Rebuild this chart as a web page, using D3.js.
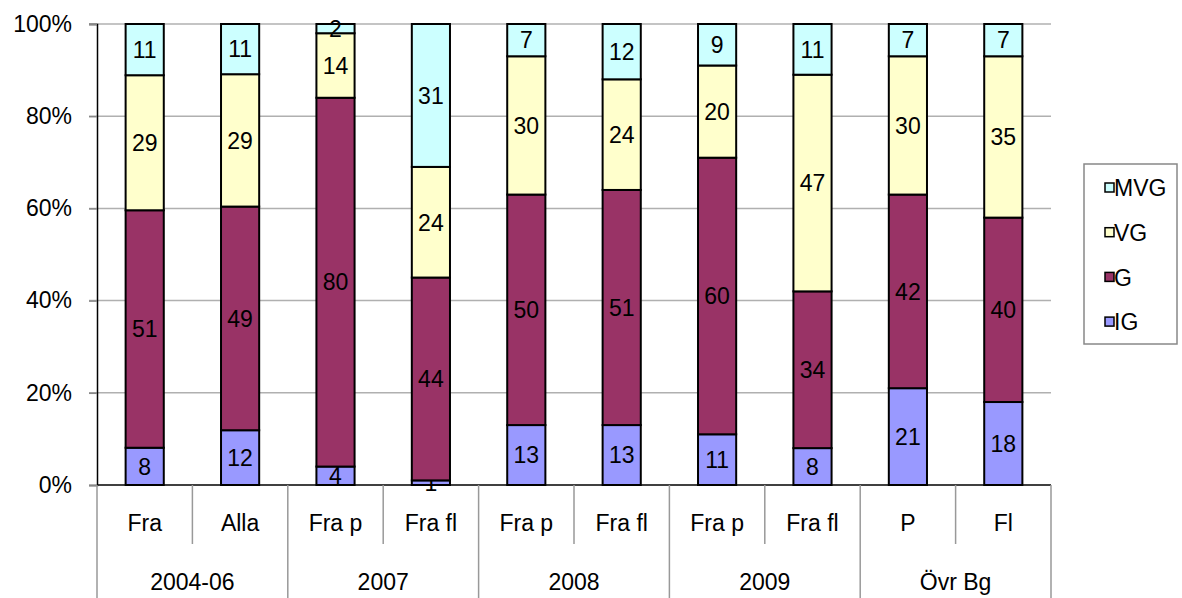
<!DOCTYPE html>
<html>
<head>
<meta charset="utf-8">
<script src="https://cdn.jsdelivr.net/npm/d3@7"></script>
<style>
  body { margin: 0; background: #fff; }
  text { font-family: "Liberation Sans", Arial, sans-serif; }
</style>
</head>
<body>
<svg class="chart"></svg>
<script>
let groups = ["2004-06", "2007", "2008", "2009", "Övr Bg"];
let categories = ["Fra", "Alla", "Fra p", "Fra fl", "Fra p", "Fra fl", "Fra p", "Fra fl", "P", "Fl"];
let groupOf = [0, 0, 1, 1, 2, 2, 3, 3, 4, 4];
let seriesNames = ["IG", "G", "VG", "MVG"];
let IG  = [8, 12, 4, 1, 13, 13, 11, 8, 21, 18];
let G   = [51, 49, 80, 44, 50, 51, 60, 34, 42, 40];
let VG  = [29, 29, 14, 24, 30, 24, 20, 47, 30, 35];
let MVG = [11, 11, 2, 31, 7, 12, 9, 11, 7, 7];
let yTicks = [0, 0.2, 0.4, 0.6, 0.8, 1];

let colors = { IG: "#9999FF", G: "#993366", VG: "#FFFFCC", MVG: "#CCFFFF" };

let svgWidth = 1182, svgHeight = 598;
let plotLeft = 97, plotRight = 1051, plotTop = 24, plotBottom = 485;
let fontSize = "23px";

let rows = categories.map(function (c, i) {
    return { i: i, IG: IG[i], G: G[i], VG: VG[i], MVG: MVG[i] };
});

let svg = d3.select('.chart')
    .attr("width", svgWidth)
    .attr("height", svgHeight);

let x = d3.scaleBand()
    .domain(d3.range(categories.length))
    .range([plotLeft, plotRight])
    .paddingInner(0.6)
    .paddingOuter(0.3);

let xBand = d3.scaleBand()
    .domain(d3.range(categories.length))
    .range([plotLeft, plotRight]);

let y = d3.scaleLinear().domain([0, 1]).range([plotBottom, plotTop]);

// gridlines
svg.append("g")
    .selectAll("line")
    .data(yTicks.filter(function (d) { return d > 0; }))
    .enter()
    .append("line")
    .attr("x1", plotLeft - 8)
    .attr("x2", plotRight)
    .attr("y1", function (d) { return y(d); })
    .attr("y2", function (d) { return y(d); })
    .attr("stroke", "#b0b0b0")
    .attr("stroke-width", 1.5);

// y axis
let yAxis = svg.append("g")
    .attr("transform", "translate(" + plotLeft + ",0)")
    .call(d3.axisLeft(y).tickValues(yTicks).tickFormat(d3.format(".0%")).tickSize(8).tickPadding(17));
yAxis.select(".domain").attr("stroke", "#000").attr("stroke-width", 1.5);
yAxis.selectAll(".tick line").attr("stroke", "#888").attr("stroke-width", 1.5);
yAxis.selectAll("text")
    .style("font-size", fontSize)
    .attr("fill", "#000");

// bars
let stack = d3.stack().keys(seriesNames).offset(d3.stackOffsetExpand);
let layers = stack(rows);

let layer = svg.selectAll(".layer")
    .data(layers)
    .enter()
    .append("g")
    .attr("class", "layer")
    .attr("fill", function (d) { return colors[d.key]; });

layer.selectAll("rect")
    .data(function (d) { return d; })
    .enter()
    .append("rect")
    .attr("x", function (d) { return x(d.data.i); })
    .attr("width", x.bandwidth())
    .attr("y", function (d) { return y(d[1]); })
    .attr("height", function (d) { return y(d[0]) - y(d[1]); })
    .attr("stroke", "#000")
    .attr("stroke-width", 2);

layer.selectAll("text")
    .data(function (d) { return d.map(function (p) { return { p: p, key: d.key }; }); })
    .enter()
    .append("text")
    .attr("x", function (d) { return x(d.p.data.i) + x.bandwidth() / 2; })
    .attr("y", function (d) { return (y(d.p[0]) + y(d.p[1])) / 2; })
    .attr("dy", "0.36em")
    .attr("text-anchor", "middle")
    .attr("fill", "#000")
    .style("font-size", fontSize)
    .text(function (d) { return d.p.data[d.key]; });

// x axis line
svg.append("line")
    .attr("x1", plotLeft).attr("x2", plotRight)
    .attr("y1", plotBottom).attr("y2", plotBottom)
    .attr("stroke", "#000").attr("stroke-width", 1.5);

// category separators
let seps = d3.range(categories.length + 1);
svg.append("g")
    .selectAll("line")
    .data(seps)
    .enter()
    .append("line")
    .attr("x1", function (i) { return plotLeft + i * xBand.bandwidth(); })
    .attr("x2", function (i) { return plotLeft + i * xBand.bandwidth(); })
    .attr("y1", plotBottom)
    .attr("y2", function (i) { return (i % 2 === 0) ? svgHeight : 544; })
    .attr("stroke", "#999")
    .attr("stroke-width", 1.5);

svg.append("g")
    .selectAll("text")
    .data(categories)
    .enter()
    .append("text")
    .attr("x", function (d, i) { return xBand(i) + xBand.bandwidth() / 2; })
    .attr("y", 531)
    .attr("text-anchor", "middle")
    .style("font-size", fontSize)
    .text(function (d) { return d; });

svg.append("g")
    .selectAll("text")
    .data(groups)
    .enter()
    .append("text")
    .attr("x", function (d, gi) {
        let idx = groupOf.map(function (g, i) { return g === gi ? i : -1; }).filter(function (i) { return i >= 0; });
        return (xBand(idx[0]) + xBand(idx[idx.length - 1]) + xBand.bandwidth()) / 2;
    })
    .attr("y", 590)
    .attr("text-anchor", "middle")
    .style("font-size", fontSize)
    .text(function (d) { return d; });

// legend
let legend = svg.append("g").attr("transform", "translate(1084,164)");
legend.append("rect")
    .attr("width", 93).attr("height", 180)
    .attr("fill", "#fff").attr("stroke", "#888").attr("stroke-width", 1.5);

let legendItems = seriesNames.slice().reverse();
let item = legend.selectAll(".item")
    .data(legendItems)
    .enter()
    .append("g")
    .attr("transform", function (d, i) { return "translate(0," + (24 + i * 44.7) + ")"; });

item.append("rect")
    .attr("x", 21).attr("y", -5)
    .attr("width", 9).attr("height", 9)
    .attr("fill", function (d) { return colors[d]; })
    .attr("stroke", "#000").attr("stroke-width", 1.5);

item.append("text")
    .attr("x", 30)
    .attr("dy", "0.36em")
    .style("font-size", fontSize)
    .text(function (d) { return d; });
</script>
</body>
</html>
